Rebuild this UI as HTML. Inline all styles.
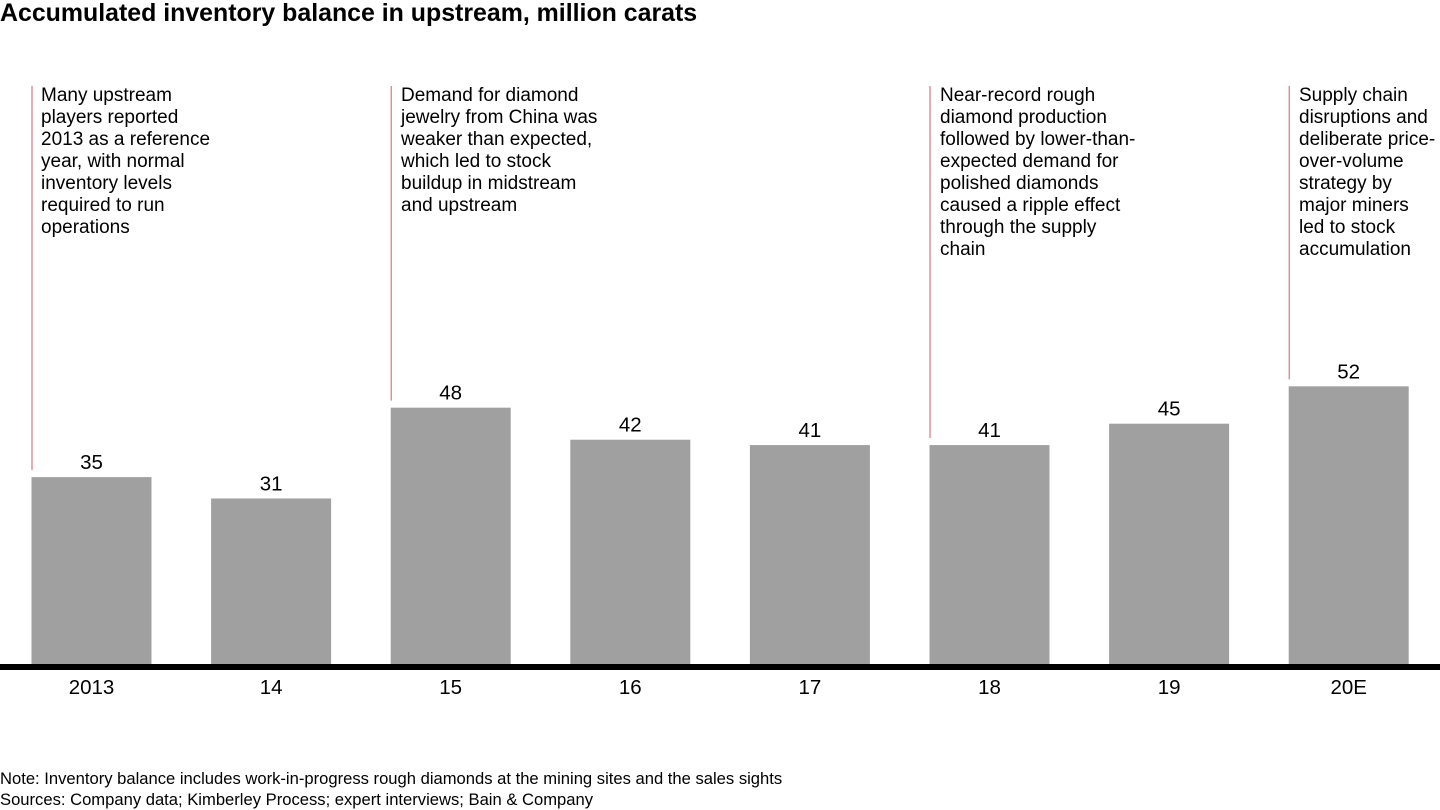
<!DOCTYPE html>
<html><head><meta charset="utf-8"><style>
html,body{margin:0;padding:0;background:#fff;}
body{width:1440px;height:810px;position:relative;overflow:hidden;font-family:"Liberation Sans",Arial,sans-serif;color:#000;}
.title{position:absolute;left:0;top:-1px;font-size:24.9px;font-weight:bold;}
.note{position:absolute;left:0;font-size:16.6px;}
.ann{position:absolute;font-size:19px;line-height:22px;}
</style></head><body>
<div class="title">Accumulated inventory balance in upstream, million carats</div>
<svg id="chart" width="1440" height="810" style="position:absolute;left:0;top:0"></svg>
<div class="ann" style="left:41px;top:85px">Many upstream<br>players reported<br>2013 as a reference<br>year, with normal<br>inventory levels<br>required to run<br>operations</div>
<div class="ann" style="left:401px;top:85px">Demand for diamond<br>jewelry from China was<br>weaker than expected,<br>which led to stock<br>buildup in midstream<br>and upstream</div>
<div class="ann" style="left:940px;top:85px">Near-record rough<br>diamond production<br>followed by lower-than-<br>expected demand for<br>polished diamonds<br>caused a ripple effect<br>through the supply<br>chain</div>
<div class="ann" style="left:1299px;top:85px">Supply chain<br>disruptions and<br>deliberate price-<br>over-volume<br>strategy by<br>major miners<br>led to stock<br>accumulation</div>
<div class="note" style="top:769px">Note: Inventory balance includes work-in-progress rough diamonds at the mining sites and the sales sights</div>
<div class="note" style="top:790px">Sources: Company data; Kimberley Process; expert interviews; Bain &amp; Company</div>
<script>
const categories=["2013","14","15","16","17","18","19","20E"];
const values=[35,31,48,42,41,41,45,52];
const annotated=[0,2,5,7];
const NS="http://www.w3.org/2000/svg";
const svg=document.getElementById('chart');
const base=664,scale=5.34,x0=31.5,step=179.6,bw=120;
function xs(i){return x0+i*step;}
function ys(v){return base-v*scale;}
function mk(t,a){const e=document.createElementNS(NS,t);for(const k in a)e.setAttribute(k,a[k]);svg.appendChild(e);return e;}
categories.forEach((c,i)=>{
  const r=mk('rect',{x:xs(i),y:ys(values[i]),width:bw,height:base-ys(values[i]),fill:'#a0a0a0'});
  
  
  const t=mk('text',{x:xs(i)+bw/2,y:ys(values[i])-8,'text-anchor':'middle','font-size':'20.5','font-family':'Liberation Sans, Arial, sans-serif'});
  t.textContent=values[i];
  
  
  const l=mk('text',{x:xs(i)+bw/2,y:694,'text-anchor':'middle','font-size':'20.5','font-family':'Liberation Sans, Arial, sans-serif'});
  l.textContent=c;
  
  
});
annotated.forEach(i=>{
  const ln=mk('line',{x1:xs(i)+0.5,x2:xs(i)+0.5,y1:86,y2:ys(values[i])-7,stroke:'#c9606c','stroke-width':1});
  
  
});
const ax=mk('rect',{x:0,y:664,width:1440,height:6,fill:'#000'});


</script>
</body></html>
